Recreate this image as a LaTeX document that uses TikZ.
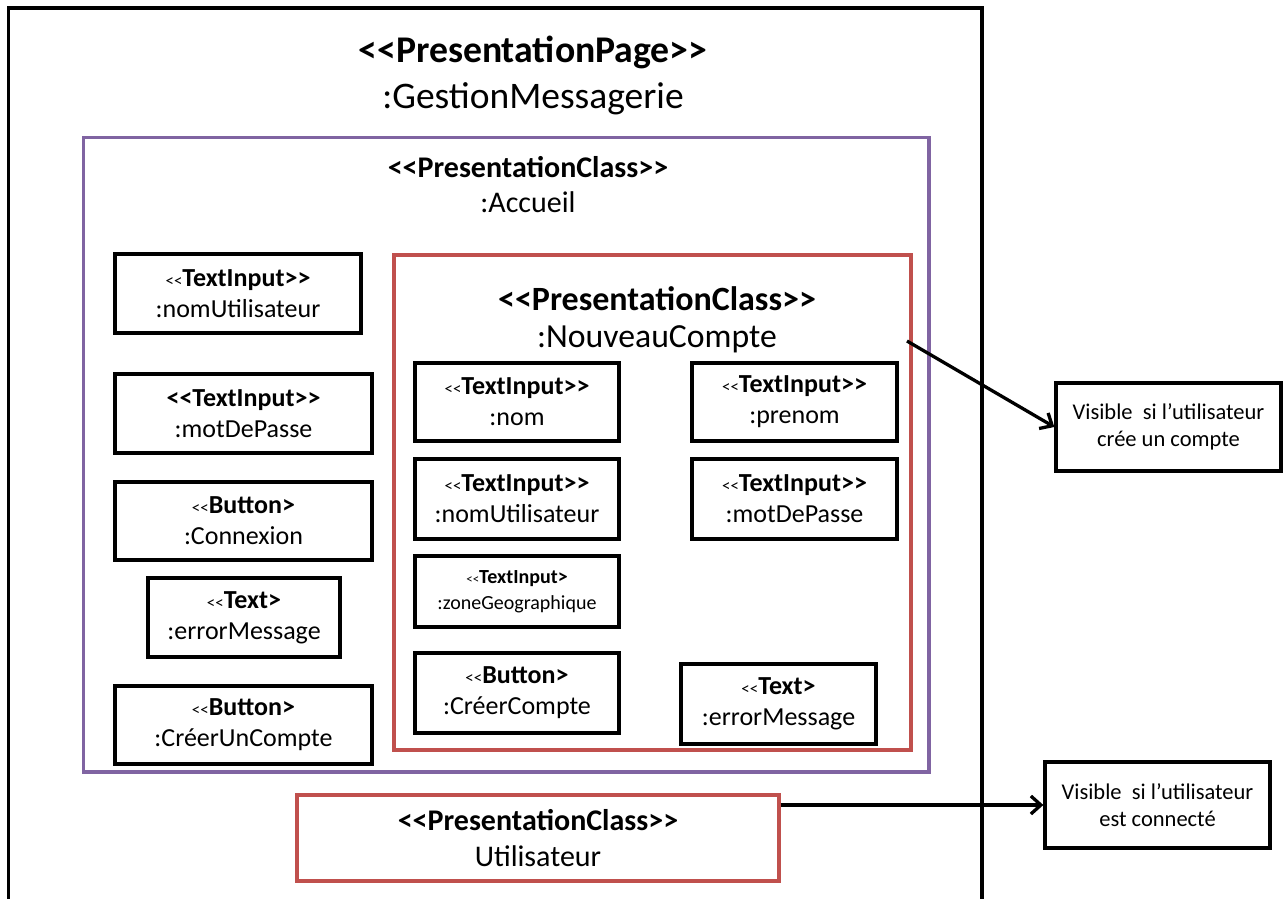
\documentclass[tikz,border=0pt]{standalone}
\usepackage{fontspec}
\setmainfont{Carlito}
\usepackage{xcolor}
\definecolor{classpurple}{RGB}{128, 100, 162}
\definecolor{classred}{RGB}{192, 80, 77}
\usepackage{tikz}
\usetikzlibrary{arrows.meta, positioning}
\newcommand{\stlt}{{\fontsize{17}{17}\selectfont <{}<}}

\begin{document}
\begin{tikzpicture}[
    x=1pt, y=-1pt,
    container/.style={
        rectangle, line width=3.3pt, inner sep=0pt
    },
    widget/.style={
        rectangle, draw=black, line width=3.3pt, align=center, inner sep=0pt,
        font=\fontsize{26}{31}\selectfont
    },
    smallwidget/.style={
        widget, font=\fontsize{20}{26}\selectfont
    },
    note/.style={
        rectangle, draw=black, line width=3.3pt, align=center, inner sep=0pt,
        font=\fontsize{22.5}{27}\selectfont
    },
    title/.style={
        anchor=base, inner sep=0pt
    },
    link/.style={
        -{Straight Barb[length=10pt, width=18pt]}, line width=3.3pt
    }
]
\useasboundingbox (0,0) rectangle (1285,899);

% Containers
\node[container, draw=black, minimum width=973.5, minimum height=932] (page) at (495.25,474) {};
\node[title, font=\fontsize{37.7}{37.7}\selectfont\bfseries] (pagestereo) at (533,63) {<{}<PresentationPage>{}>};
\node[title, font=\fontsize{37.5}{37.5}\selectfont] (pagename) at (533,108) {:GestionMessagerie};

\node[container, draw=classpurple, minimum width=845.5, minimum height=634.5] (accueil) at (506.25,454.75) {};
\node[title, font=\fontsize{30}{30}\selectfont\bfseries] (accueilstereo) at (528,177) {<{}<PresentationClass>{}>};
\node[title, font=\fontsize{30}{30}\selectfont] (accueilname) at (528,212) {:Accueil};

\node[container, draw=classred, minimum width=517, minimum height=495] (nouveau) at (652.5,502.5) {};
\node[title, font=\fontsize{34}{34}\selectfont\bfseries] (nouveaustereo) at (657,310) {<{}<PresentationClass>{}>};
\node[title, font=\fontsize{33.7}{33.7}\selectfont] (nouveauname) at (657,347) {:NouveauCompte};

\node[container, draw=classred, align=center, font=\fontsize{30}{36}\selectfont,
      minimum width=482, minimum height=86] (utilisateur) at (538,838)
      {\textbf{<{}<PresentationClass>{}>}\\Utilisateur};

% Accueil widgets
\node[widget, minimum width=246, minimum height=79] (lnom) at (238,293.5) {\stlt\textbf{TextInput>{}>}\\:nomUtilisateur};
\node[widget, minimum width=257, minimum height=79] (lmdp) at (243.5,413.5) {\textbf{<{}<TextInput>{}>}\\:motDePasse};
\node[widget, minimum width=257, minimum height=78] (lconnexion) at (243.5,521) {\stlt\textbf{Button>}\\:Connexion};
\node[widget, minimum width=192, minimum height=79] (lerror) at (244,617.5) {\stlt\textbf{Text>}\\:errorMessage};
\node[widget, minimum width=257, minimum height=78] (lcreer) at (243.5,725) {\stlt\textbf{Button>}\\:CréerUnCompte};

% NouveauCompte widgets
\node[widget, minimum width=204, minimum height=78] (nnom) at (517,402) {\stlt\textbf{TextInput>{}>}\\:nom};
\node[widget, minimum width=205, minimum height=78] (nprenom) at (794.5,402) {\stlt\textbf{TextInput>{}>}\\:prenom};
\node[widget, minimum width=204, minimum height=80] (nnomutil) at (517,499) {\stlt\textbf{TextInput>{}>}\\:nomUtilisateur};
\node[widget, minimum width=205, minimum height=80] (nmdp) at (794.5,499) {\stlt\textbf{TextInput>{}>}\\:motDePasse};
\node[smallwidget, minimum width=204, minimum height=71] (nzone) at (517,591.5) {{\fontsize{13}{13}\selectfont <{}<}\textbf{TextInput>}\\:zoneGeographique};
\node[widget, minimum width=204, minimum height=80] (ncreer) at (517,693) {\stlt\textbf{Button>}\\:CréerCompte};
\node[widget, minimum width=195, minimum height=80] (nerror) at (778.5,704) {\stlt\textbf{Text>}\\:errorMessage};

% Notes
\node[note, minimum width=225, minimum height=88] (notecompte) at (1168.5,427) {Visible\ \ si l’utilisateur\\crée un compte};
\node[note, minimum width=225, minimum height=86] (noteconnecte) at (1157.5,805) {Visible\ \ si l’utilisateur\\est connecté};

% Relations
\coordinate (nouveauout) at (907,341);
\draw[link] (nouveauout) -- (notecompte.west);
\draw[link] (utilisateur.east |- noteconnecte.west) -- (noteconnecte.west);

\end{tikzpicture}
\end{document}
